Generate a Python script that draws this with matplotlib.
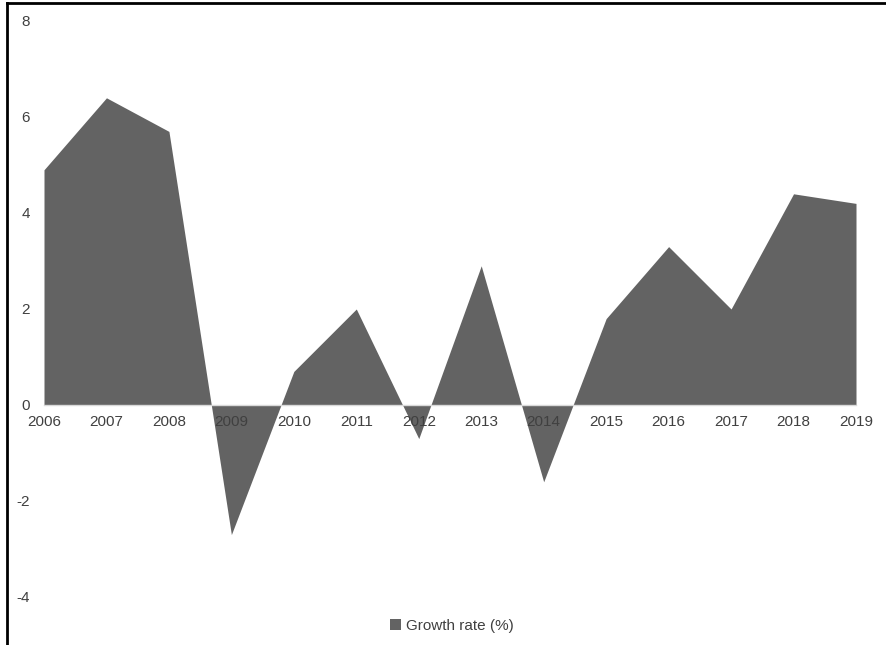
import matplotlib
matplotlib.use("Agg")
import matplotlib.pyplot as plt
from matplotlib.lines import Line2D
from matplotlib.patches import Patch

years = [2006, 2007, 2008, 2009, 2010, 2011, 2012, 2013, 2014, 2015, 2016, 2017, 2018, 2019]
growth = [4.9, 6.4, 5.7, -2.7, 0.7, 2.0, -0.7, 2.9, -1.6, 1.8, 3.3, 2.0, 4.4, 4.2]
yticks = [-4, -2, 0, 2, 4, 6, 8]
series_label = "Growth rate (%)"

plt.rcParams['font.family'] = ['Liberation Sans', 'DejaVu Sans']
fill_color = "#636363"
text_color = "#404040"

fig = plt.figure(figsize=(8.87, 6.45), dpi=100)
ax = fig.add_axes([44/887, 1-597/645, (856-44)/887, (597-21)/645])
ax.fill_between(years, growth, 0, color=fill_color, linewidth=0, zorder=1)
ax.set_xlim(years[0], years[-1])
ax.set_ylim(-4, 8)
ax.set_yticks(yticks)
ax.set_yticklabels([str(v) for v in yticks])
ax.set_xticks(years)
ax.set_xticklabels([str(y) for y in years])
for s in ['top', 'right', 'left']:
    ax.spines[s].set_visible(False)
ax.spines['bottom'].set_position(('data', 0))
ax.spines['bottom'].set_color('#d9d9d9')
ax.spines['bottom'].set_linewidth(1.0)
ax.spines['bottom'].set_zorder(3)
ax.tick_params(axis='x', length=0, pad=7, labelsize=11, labelcolor=text_color)
ax.tick_params(axis='y', length=0, pad=10, labelsize=11, labelcolor=text_color)
ax.set_facecolor('none')

handle = Patch(facecolor=fill_color, edgecolor='none')
fig.legend([handle], [series_label], loc='center', bbox_to_anchor=(452/887, 1-626/645),
           frameon=False, fontsize=11, labelcolor=text_color, handlelength=0.7,
           handleheight=0.7, handletextpad=0.3)

# outer frame (top and left edges)
fig.add_artist(Line2D([7/887, 1], [1-3/645, 1-3/645], transform=fig.transFigure, color='black', linewidth=2))
fig.add_artist(Line2D([7/887, 7/887], [0, 1-3/645], transform=fig.transFigure, color='black', linewidth=2))

fig.savefig("out.png", dpi=100)
